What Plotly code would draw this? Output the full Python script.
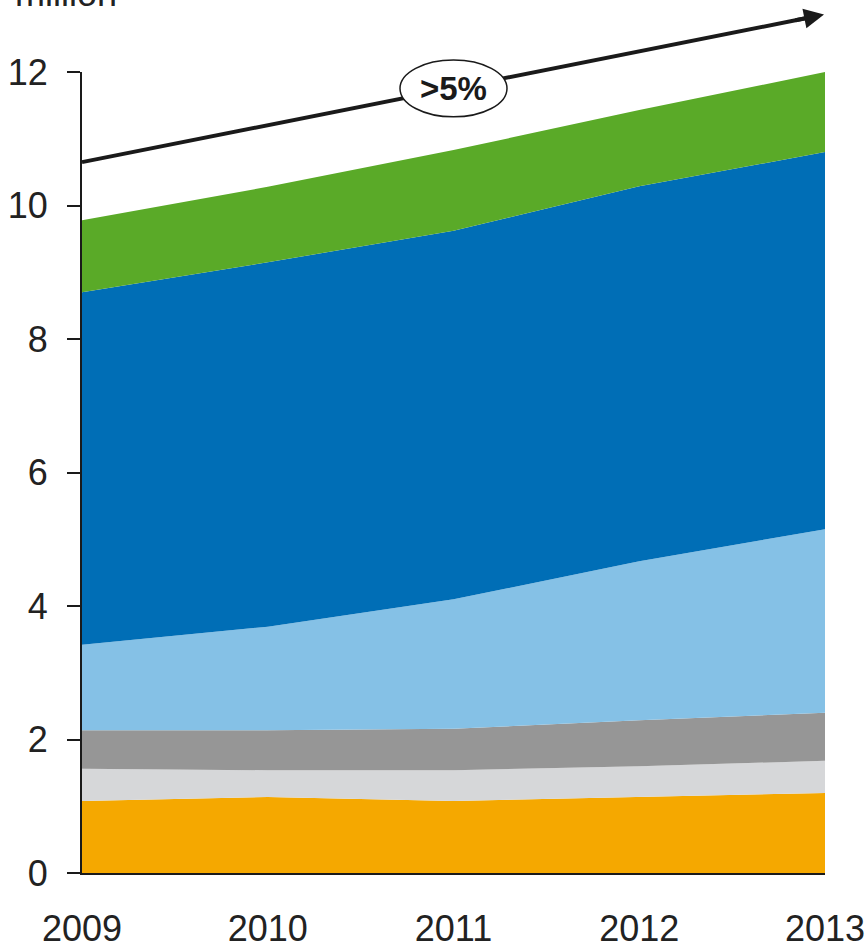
import plotly.graph_objects as go

# Years on the horizontal axis
years = [2009, 2010, 2011, 2012, 2013]
year_labels = ["2009", "2010", "2011", "2012", "2013"]

# Stacked layers, bottom to top (million)
orange = [1.08, 1.14, 1.08, 1.14, 1.20]
light_gray = [0.48, 0.40, 0.46, 0.46, 0.48]
dark_gray = [0.58, 0.60, 0.62, 0.69, 0.72]
light_blue = [1.28, 1.55, 1.94, 2.38, 2.75]
dark_blue = [5.28, 5.46, 5.52, 5.62, 5.65]
green = [1.08, 1.13, 1.21, 1.14, 1.20]

layers = [
    (orange, "#F5A800"),
    (light_gray, "#D6D7D9"),
    (dark_gray, "#969696"),
    (light_blue, "#85C1E6"),
    (dark_blue, "#006EB6"),
    (green, "#5AAA28"),
]

y_ticks = [0, 2, 4, 6, 8, 10, 12]
y_max = 12

# Growth arrow (in axis units) and its label
arrow_start = 10.65
arrow_end = 12.86
growth_label = ">5%"

fig = go.Figure()
for vals, color in layers:
    fig.add_trace(go.Scatter(
        x=years, y=vals, mode="lines", stackgroup="one",
        line=dict(width=0, color=color), fillcolor=color,
        hoverinfo="skip", showlegend=False,
    ))

font = dict(family="Liberation Sans, Arial, sans-serif", size=36, color="#222222")

fig.update_layout(
    width=868, height=945,
    margin=dict(l=82, r=43, t=72, b=72),
    paper_bgcolor="white", plot_bgcolor="white",
    font=font,
    xaxis=dict(
        range=[years[0], years[-1]], tickvals=years, ticktext=year_labels,
        showgrid=False, zeroline=False, showline=True, linecolor="#1a1a1a",
        linewidth=2, ticks="", ticklabelstandoff=23, tickfont=font,
        automargin=False,
    ),
    yaxis=dict(
        range=[0, y_max], tickvals=y_ticks,
        showgrid=False, zeroline=False, showline=True, linecolor="#1a1a1a",
        linewidth=2, ticks="outside", ticklen=13, tickwidth=2,
        tickcolor="#1a1a1a", ticklabelstandoff=12, tickfont=font,
        automargin=False,
    ),
)

# Arrow shaft, drawn in paper coordinates so it is not clipped
ys0 = arrow_start / y_max
ys1 = arrow_end / y_max
tip_x = 0.9987
shaft_x = tip_x - 0.02
fig.add_shape(type="line", xref="paper", yref="paper",
              x0=0, y0=ys0, x1=shaft_x, y1=ys0 + (ys1 - ys0) * shaft_x / tip_x,
              line=dict(color="#1a1a1a", width=4), layer="above")

# Ellipse holding the growth label
fig.add_shape(type="circle", xref="paper", yref="paper",
              x0=0.428, x1=0.572, y0=0.944, y1=1.015,
              fillcolor="white", line=dict(color="#1a1a1a", width=1.5),
              layer="above")

# Arrow head
fig.add_annotation(xref="paper", yref="paper", x=tip_x, y=ys1,
                   ax=-30, ay=6, showarrow=True, arrowhead=2, arrowsize=1,
                   arrowwidth=4, arrowcolor="#1a1a1a", standoff=0, text="")

fig.add_annotation(xref="paper", yref="paper", x=0.5, y=0.9795,
                   text="<b>%s</b>" % growth_label, showarrow=False,
                   xanchor="center", yanchor="middle",
                   font=dict(family="Liberation Sans, Arial, sans-serif",
                             size=33, color="#1a1a1a"))

# Unit label above the value axis
fig.add_annotation(xref="paper", yref="paper", x=-0.0209, y=1.0974,
                   text="million", showarrow=False, font=font,
                   xanchor="center", yanchor="middle")

fig.write_html("out.html")
